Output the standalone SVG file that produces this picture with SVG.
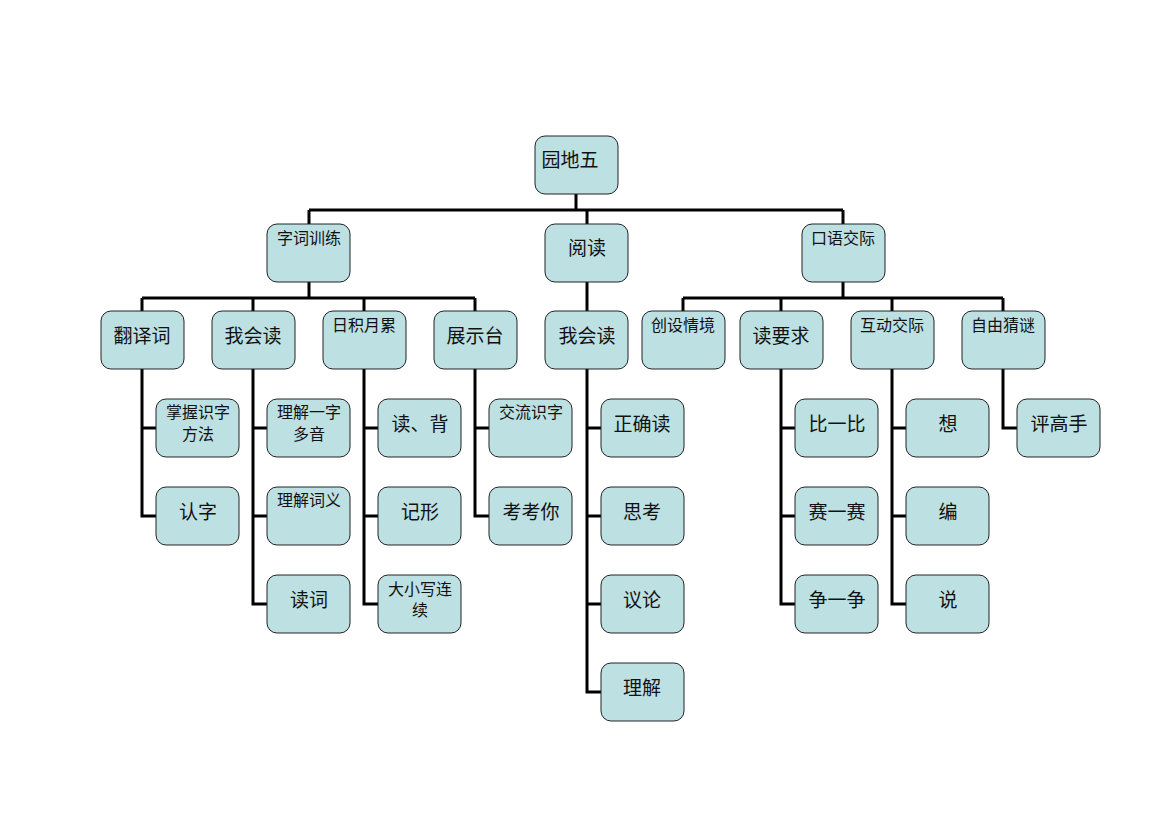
<svg xmlns="http://www.w3.org/2000/svg" width="1169" height="826" viewBox="0 0 1169 826">
<style>
.n rect{fill:#bde0e3;stroke:#222;stroke-width:1}
.n text{font-family:"Liberation Serif","Noto Sans CJK SC",serif;fill:#111;text-anchor:middle}
.b{font-size:19px}
.s{font-size:16px}
.c path{fill:none;stroke:#000;stroke-width:3}
</style>
<rect width="1169" height="826" fill="#fff"/>
<g class="c">
<path d="M576 194V210M309 210H843M309 210V224M587 210V224M843 210V224"/>
<path d="M309 282V298M142 298H475M142 298V311M253 298V311M364 298V311M475 298V311"/>
<path d="M587 282V311"/>
<path d="M843 282V298M683 298H1003M683 298V311M781 298V311M892 298V311M1003 298V311"/>
<path d="M142 369V516H156M142 428H156"/>
<path d="M253 369V604H267M253 428H267M253 516H267"/>
<path d="M364 369V604H378M364 428H378M364 516H378"/>
<path d="M475 369V516H489M475 428H489"/>
<path d="M587 369V692H601M587 428H601M587 516H601M587 604H601"/>
<path d="M781 369V604H795M781 428H795M781 516H795"/>
<path d="M892 369V604H906M892 428H906M892 516H906"/>
<path d="M1003 369V428H1017"/>
</g>
<g id="root" class="n"><rect x="535" y="136" width="83" height="58" rx="10"/><text class="b" x="570" y="167">园地五</text></g>
<g id="zcxl" class="n"><rect x="267" y="224" width="83" height="58" rx="10"/><text class="s" x="309" y="244">字词训练</text></g>
<g id="yd" class="n"><rect x="545" y="224" width="83" height="58" rx="10"/><text class="b" x="587" y="255">阅读</text></g>
<g id="kyjj" class="n"><rect x="802" y="224" width="83" height="58" rx="10"/><text class="s" x="843" y="244">口语交际</text></g>
<g id="fyc" class="n"><rect x="101" y="311" width="83" height="58" rx="10"/><text class="b" x="142" y="343">翻译词</text></g>
<g id="whd1" class="n"><rect x="212" y="311" width="83" height="58" rx="10"/><text class="b" x="253" y="343">我会读</text></g>
<g id="rjyl" class="n"><rect x="323" y="311" width="83" height="58" rx="10"/><text class="s" x="364" y="331">日积月累</text></g>
<g id="zst" class="n"><rect x="434" y="311" width="83" height="58" rx="10"/><text class="b" x="475" y="343">展示台</text></g>
<g id="whd2" class="n"><rect x="545" y="311" width="83" height="58" rx="10"/><text class="b" x="587" y="343">我会读</text></g>
<g id="csqj" class="n"><rect x="642" y="311" width="83" height="58" rx="10"/><text class="s" x="683" y="331">创设情境</text></g>
<g id="dyq" class="n"><rect x="740" y="311" width="83" height="58" rx="10"/><text class="b" x="781" y="343">读要求</text></g>
<g id="hdjj" class="n"><rect x="851" y="311" width="83" height="58" rx="10"/><text class="s" x="892" y="331">互动交际</text></g>
<g id="zycm" class="n"><rect x="962" y="311" width="83" height="58" rx="10"/><text class="s" x="1003" y="331">自由猜谜</text></g>
<g id="zwsz" class="n"><rect x="156" y="399" width="83" height="58" rx="10"/><text class="s" x="198" y="418">掌握识字</text><text class="s" x="198" y="440">方法</text></g>
<g id="rz" class="n"><rect x="156" y="487" width="83" height="58" rx="10"/><text class="b" x="198" y="519">认字</text></g>
<g id="ljyz" class="n"><rect x="267" y="399" width="83" height="58" rx="10"/><text class="s" x="309" y="418">理解一字</text><text class="s" x="309" y="440">多音</text></g>
<g id="ljcy" class="n"><rect x="267" y="487" width="83" height="58" rx="10"/><text class="s" x="309" y="506">理解词义</text></g>
<g id="dc" class="n"><rect x="267" y="575" width="83" height="58" rx="10"/><text class="b" x="309" y="607">读词</text></g>
<g id="db" class="n"><rect x="378" y="399" width="83" height="58" rx="10"/><text class="b" x="420" y="431">读、背</text></g>
<g id="jx" class="n"><rect x="378" y="487" width="83" height="58" rx="10"/><text class="b" x="420" y="519">记形</text></g>
<g id="dxx" class="n"><rect x="378" y="575" width="83" height="58" rx="10"/><text class="s" x="420" y="595">大小写连</text><text class="s" x="420" y="616">续</text></g>
<g id="jlsz" class="n"><rect x="489" y="399" width="83" height="58" rx="10"/><text class="s" x="531" y="418">交流识字</text></g>
<g id="kkn" class="n"><rect x="489" y="487" width="83" height="58" rx="10"/><text class="b" x="531" y="519">考考你</text></g>
<g id="zqd" class="n"><rect x="601" y="399" width="83" height="58" rx="10"/><text class="b" x="642" y="431">正确读</text></g>
<g id="sk" class="n"><rect x="601" y="487" width="83" height="58" rx="10"/><text class="b" x="642" y="519">思考</text></g>
<g id="yl" class="n"><rect x="601" y="575" width="83" height="58" rx="10"/><text class="b" x="642" y="607">议论</text></g>
<g id="lj" class="n"><rect x="601" y="663" width="83" height="58" rx="10"/><text class="b" x="642" y="695">理解</text></g>
<g id="byb" class="n"><rect x="795" y="399" width="83" height="58" rx="10"/><text class="b" x="837" y="431">比一比</text></g>
<g id="sys" class="n"><rect x="795" y="487" width="83" height="58" rx="10"/><text class="b" x="837" y="519">赛一赛</text></g>
<g id="zyz" class="n"><rect x="795" y="575" width="83" height="58" rx="10"/><text class="b" x="837" y="607">争一争</text></g>
<g id="x" class="n"><rect x="906" y="399" width="83" height="58" rx="10"/><text class="b" x="948" y="431">想</text></g>
<g id="b" class="n"><rect x="906" y="487" width="83" height="58" rx="10"/><text class="b" x="948" y="519">编</text></g>
<g id="s" class="n"><rect x="906" y="575" width="83" height="58" rx="10"/><text class="b" x="948" y="607">说</text></g>
<g id="pgs" class="n"><rect x="1017" y="399" width="83" height="58" rx="10"/><text class="b" x="1059" y="431">评高手</text></g>
</svg>
